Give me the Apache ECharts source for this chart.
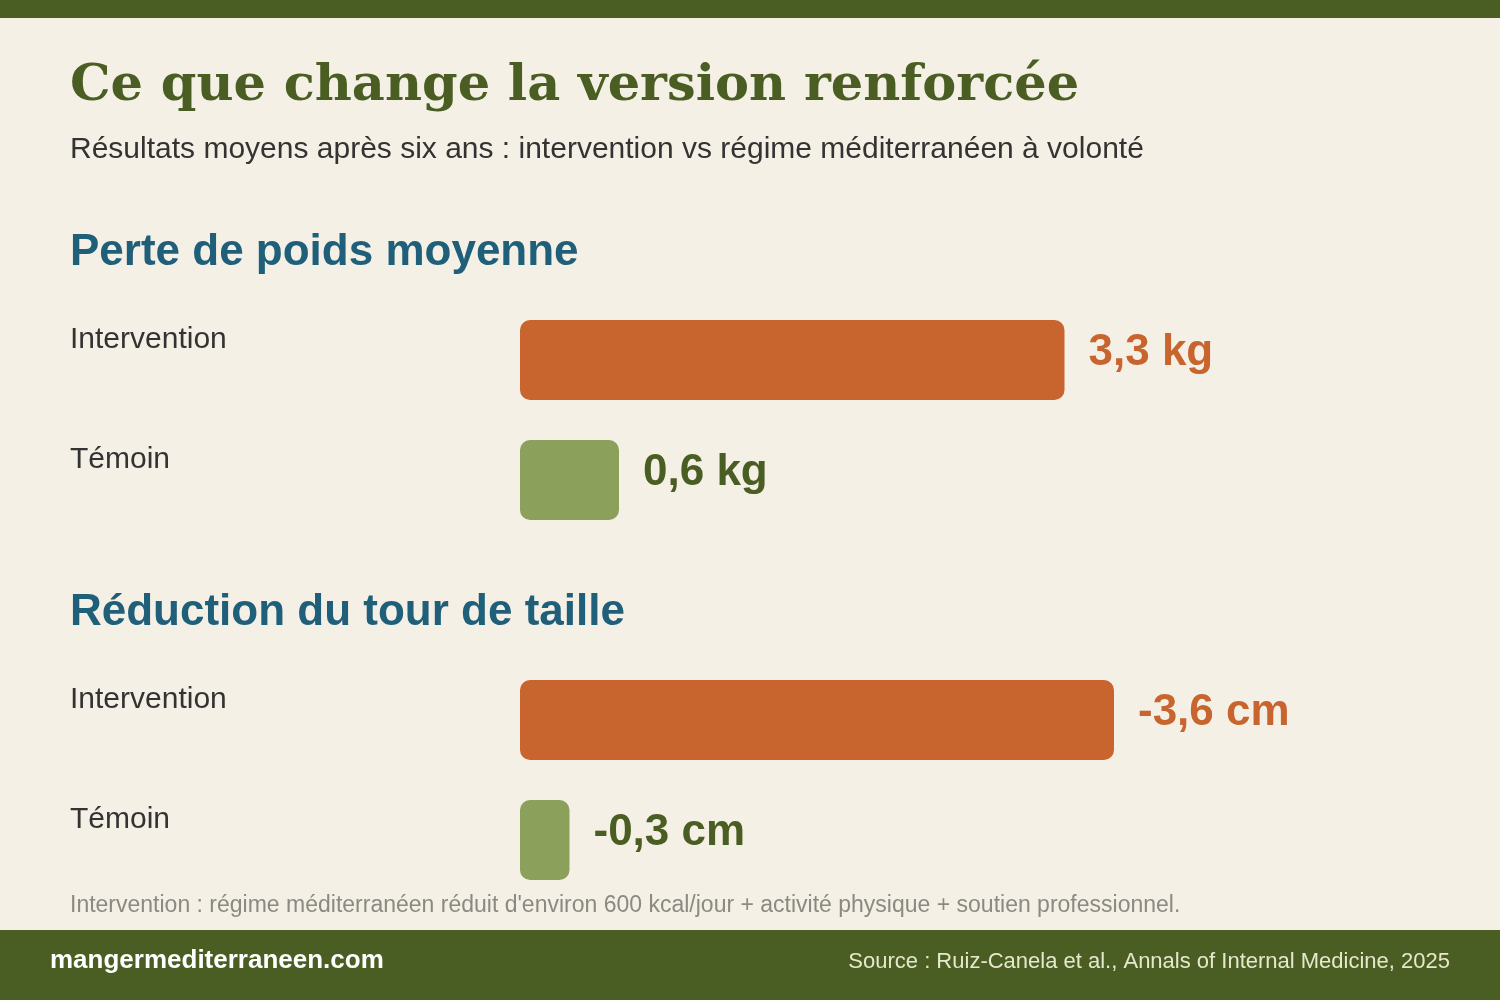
<!DOCTYPE html>
<html>
<head>
<meta charset="utf-8">
<script src="https://cdn.jsdelivr.net/npm/echarts@6/dist/echarts.min.js"></script>
<style>
html,body{margin:0;padding:0;background:#F5F0E5;}
#chart{width:1500px;height:1000px;}
</style>
</head>
<body>
<div id="chart"></div>
<script>
// ---- data ----
var categories = ['Intervention', 'Témoin'];
var weightLoss = [3.3, 0.6];        // kg
var waistChange = [-3.6, -0.3];     // cm
var sectionTitles = ['Perte de poids moyenne', 'Réduction du tour de taille'];

var ORANGE = '#C8652F', GREEN = '#8BA05A', OLIVE = '#4A5E23', BLUE = '#1F5F7A';
var barColors = [ORANGE, GREEN];
var labelColors = [ORANGE, OLIVE];
var SANS = '"Liberation Sans", Arial, sans-serif';

function fmt(v, unit) {
  return v.toFixed(1).replace('.', ',') + ' ' + unit;
}
function makeData(vals) {
  return vals.map(function (v, i) {
    return {
      value: Math.abs(v),
      raw: v,
      itemStyle: { color: barColors[i] },
      label: { color: labelColors[i] }
    };
  });
}

var chart = echarts.init(document.getElementById('chart'), null, { renderer: 'canvas' });

var yAxisCommon = {
  type: 'category',
  data: categories,
  inverse: true,
  axisLine: { show: false },
  axisTick: { show: false },
  axisLabel: {
    margin: 450,
    align: 'left',
    fontSize: 30,
    fontFamily: SANS,
    color: '#333333',
    verticalAlign: 'bottom',
    lineHeight: 40
  }
};
var xAxisCommon = {
  type: 'value',
  min: 0,
  max: 5,
  show: false
};
var seriesCommon = {
  type: 'bar',
  barWidth: 80,
  itemStyle: { borderRadius: 10 },
  label: {
    show: true,
    position: 'right',
    distance: 24,
    fontSize: 44,
    fontWeight: 'bold',
    fontFamily: SANS,
    offset: [0, -7]
  },
  silent: true,
  animation: false
};

var option = {
  backgroundColor: '#F5F0E5',
  animation: false,
  grid: [
    { left: 520, top: 300, width: 825, height: 240 },
    { left: 520, top: 660, width: 825, height: 240 }
  ],
  xAxis: [
    Object.assign({ gridIndex: 0 }, xAxisCommon),
    Object.assign({ gridIndex: 1 }, xAxisCommon)
  ],
  yAxis: [
    Object.assign({ gridIndex: 0 }, yAxisCommon),
    Object.assign({ gridIndex: 1 }, yAxisCommon)
  ],
  series: [
    Object.assign({}, seriesCommon, {
      xAxisIndex: 0, yAxisIndex: 0,
      data: makeData(weightLoss),
      label: Object.assign({}, seriesCommon.label, {
        formatter: function (p) { return fmt(p.data.raw, 'kg'); }
      })
    }),
    Object.assign({}, seriesCommon, {
      xAxisIndex: 1, yAxisIndex: 1,
      data: makeData(waistChange),
      label: Object.assign({}, seriesCommon.label, {
        formatter: function (p) { return fmt(p.data.raw, 'cm'); }
      })
    })
  ],
  graphic: [
    { type: 'rect', left: 0, top: 0, shape: { width: 1500, height: 18 }, style: { fill: OLIVE }, silent: true },
    { type: 'rect', left: 0, top: 930, shape: { width: 1500, height: 70 }, style: { fill: OLIVE }, silent: true },
    { type: 'text', x: 70, y: 87, style: { text: 'Ce que change la version renforcée', font: 'bold 51px "DejaVu Serif", Georgia, serif', fill: OLIVE, verticalAlign: 'middle' } },
    { type: 'text', x: 70, y: 150, style: { text: 'Résultats moyens après six ans : intervention vs régime méditerranéen à volonté', font: '30px ' + SANS, fill: '#333333', verticalAlign: 'middle' } },
    { type: 'text', x: 70, y: 253, style: { text: sectionTitles[0], font: 'bold 44px ' + SANS, fill: BLUE, verticalAlign: 'middle' } },
    { type: 'text', x: 70, y: 613, style: { text: sectionTitles[1], font: 'bold 44px ' + SANS, fill: BLUE, verticalAlign: 'middle' } },
    { type: 'text', x: 70, y: 906, style: { text: "Intervention : régime méditerranéen réduit d'environ 600 kcal/jour + activité physique + soutien professionnel.", font: '23px ' + SANS, fill: '#8A8A82', verticalAlign: 'middle' } },
    { type: 'text', x: 50, y: 961, style: { text: 'mangermediterraneen.com', font: 'bold 26px ' + SANS, fill: '#FFFFFF', verticalAlign: 'middle' } },
    { type: 'text', x: 1450, y: 962, style: { text: 'Source : Ruiz-Canela et al., Annals of Internal Medicine, 2025', font: '22px ' + SANS, fill: '#E6E8CC', align: 'right', verticalAlign: 'middle' } }
  ]
};
chart.setOption(option);
</script>
</body>
</html>
